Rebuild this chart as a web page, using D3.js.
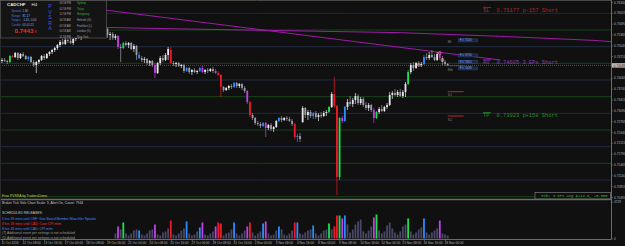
<!DOCTYPE html>
<html lang="en">
<head>
<meta charset="utf-8">
<script src="https://cdn.jsdelivr.net/npm/d3@7"></script>
<style>
  body { margin: 0; background: #101010; }
  svg { display: block; }
  text { font-family: "Liberation Sans", Arial, sans-serif; }
  .mono { font-family: "Liberation Mono", "DejaVu Sans Mono", monospace; }
</style>
</head>
<body>
<svg id="chart" width="625" height="246"></svg>
<script>
// CADCHF H4, 11 Oct 2016 00:00 -> 18 Nov 2016 04:00, one row per bar: [open, high, low, close]
const bars = [
  [.7457,.7466,.7451,.7460],[.7460,.7466,.7454,.7457],[.7457,.7460,.7448,.7454],[.7454,.7475,.7451,.7472],
  [.7472,.7475,.7466,.7469],[.7469,.7484,.7466,.7481],[.7481,.7484,.7460,.7466],[.7466,.7481,.7463,.7478],
  [.7478,.7484,.7469,.7472],[.7472,.7475,.7460,.7463],[.7463,.7472,.7457,.7469],[.7469,.7472,.7451,.7454],
  [.7454,.7460,.7439,.7445],[.7445,.7457,.7421,.7454],[.7454,.7463,.7448,.7460],[.7460,.7475,.7457,.7472],
  [.7472,.7478,.7460,.7466],[.7466,.7481,.7463,.7478],[.7478,.7487,.7472,.7484],[.7484,.7493,.7478,.7490],
  [.7490,.7499,.7484,.7496],[.7496,.7508,.7490,.7505],[.7505,.7520,.7499,.7514],[.7514,.7523,.7505,.7508],
  [.7508,.7526,.7505,.7520],[.7520,.7529,.7511,.7517],[.7517,.7532,.7508,.7511],[.7511,.7526,.7505,.7523],
  [.7523,.7538,.7517,.7532],[.7532,.7541,.7523,.7526],[.7526,.7544,.7520,.7538],[.7538,.7550,.7532,.7544],
  [.7544,.7553,.7535,.7541],[.7541,.7556,.7538,.7550],[.7550,.7559,.7541,.7547],[.7547,.7556,.7538,.7544],
  [.7544,.7553,.7526,.7532],[.7532,.7550,.7529,.7547],[.7547,.7556,.7541,.7550],[.7550,.7559,.7544,.7553],
  [.7553,.7556,.7526,.7535],[.7535,.7544,.7520,.7538],[.7538,.7544,.7520,.7526],[.7526,.7538,.7520,.7532],
  [.7532,.7535,.7493,.7499],[.7499,.7508,.7454,.7496],[.7496,.7514,.7493,.7511],[.7511,.7517,.7502,.7505],
  [.7505,.7514,.7496,.7511],[.7511,.7514,.7490,.7493],[.7493,.7508,.7484,.7502],[.7502,.7505,.7460,.7475],
  [.7475,.7484,.7463,.7466],[.7466,.7472,.7454,.7460],[.7460,.7469,.7451,.7463],[.7463,.7466,.7445,.7451],
  [.7451,.7460,.7442,.7457],[.7457,.7460,.7439,.7445],[.7445,.7451,.7406,.7421],[.7421,.7454,.7418,.7451],
  [.7451,.7472,.7445,.7466],[.7466,.7475,.7454,.7460],[.7460,.7481,.7457,.7475],[.7475,.7499,.7460,.7493],
  [.7490,.7499,.7448,.7451],[.7451,.7457,.7442,.7448],[.7448,.7454,.7439,.7451],[.7451,.7454,.7439,.7442],
  [.7442,.7448,.7436,.7445],[.7445,.7448,.7421,.7427],[.7427,.7439,.7424,.7436],[.7436,.7439,.7418,.7424],
  [.7424,.7433,.7415,.7430],[.7430,.7436,.7421,.7424],[.7424,.7430,.7418,.7427],[.7427,.7439,.7424,.7436],
  [.7436,.7442,.7421,.7424],[.7424,.7433,.7418,.7430],[.7430,.7436,.7421,.7427],[.7427,.7436,.7424,.7433],
  [.7433,.7439,.7421,.7427],[.7427,.7433,.7418,.7421],[.7421,.7427,.7412,.7415],[.7415,.7418,.7349,.7379],
  [.7379,.7382,.7364,.7370],[.7370,.7379,.7367,.7376],[.7376,.7385,.7370,.7382],[.7382,.7388,.7373,.7379],
  [.7379,.7394,.7376,.7391],[.7391,.7394,.7376,.7382],[.7382,.7391,.7376,.7388],[.7388,.7391,.7370,.7376],
  [.7376,.7382,.7361,.7367],[.7367,.7370,.7328,.7334],[.7334,.7337,.7289,.7295],[.7295,.7301,.7280,.7286],
  [.7286,.7289,.7265,.7271],[.7271,.7277,.7262,.7268],[.7268,.7274,.7256,.7262],[.7262,.7274,.7259,.7271],
  [.7271,.7274,.7229,.7256],[.7256,.7268,.7250,.7265],[.7265,.7271,.7247,.7253],[.7253,.7262,.7244,.7259],
  [.7259,.7280,.7256,.7277],[.7277,.7289,.7274,.7286],[.7286,.7292,.7274,.7280],[.7280,.7289,.7277,.7286],
  [.7286,.7292,.7277,.7283],[.7283,.7289,.7274,.7277],[.7277,.7283,.7262,.7268],[.7268,.7271,.7223,.7229],
  [.7229,.7238,.7214,.7232],[.7232,.7241,.7214,.7223],[.7274,.7322,.7271,.7316],[.7316,.7319,.7286,.7295],
  [.7295,.7310,.7280,.7304],[.7304,.7310,.7286,.7292],[.7292,.7304,.7283,.7301],[.7301,.7307,.7283,.7289],
  [.7289,.7301,.7277,.7295],[.7295,.7304,.7286,.7292],[.7292,.7307,.7289,.7301],[.7301,.7310,.7292,.7304],
  [.7304,.7322,.7301,.7319],[.7319,.7364,.7316,.7358],[.7358,.7409,.7316,.7322],[.7322,.7325,.7055,.7109],
  [.7109,.7289,.7100,.7286],[.7286,.7292,.7271,.7277],[.7277,.7322,.7274,.7319],[.7319,.7343,.7310,.7334],
  [.7334,.7352,.7322,.7328],[.7328,.7346,.7319,.7340],[.7340,.7361,.7328,.7352],[.7352,.7358,.7325,.7331],
  [.7331,.7349,.7325,.7343],[.7343,.7349,.7319,.7325],[.7325,.7334,.7310,.7316],[.7316,.7331,.7307,.7325],
  [.7325,.7328,.7304,.7310],[.7310,.7316,.7271,.7286],[.7286,.7307,.7283,.7304],[.7304,.7319,.7298,.7313],
  [.7313,.7325,.7304,.7307],[.7307,.7322,.7304,.7319],[.7319,.7331,.7313,.7325],[.7325,.7364,.7322,.7355],
  [.7355,.7367,.7343,.7361],[.7361,.7373,.7352,.7355],[.7355,.7370,.7349,.7364],[.7364,.7373,.7349,.7352],
  [.7352,.7370,.7346,.7364],[.7364,.7394,.7349,.7388],[.7388,.7430,.7385,.7424],[.7424,.7451,.7418,.7445],
  [.7445,.7454,.7427,.7436],[.7436,.7454,.7433,.7451],[.7451,.7457,.7439,.7445],[.7445,.7454,.7439,.7448],
  [.7448,.7475,.7445,.7469],[.7469,.7481,.7460,.7466],[.7466,.7484,.7460,.7475],[.7475,.7490,.7466,.7469],
  [.7469,.7478,.7457,.7460],[.7460,.7484,.7457,.7478],[.7478,.7487,.7460,.7466],[.7466,.7472,.7445,.7454],
  [.7454,.7460,.7442,.7448],[.7448,.7451,.7442,.74438]
];

// PVSRA coloured bars (index -> g climax bull, r climax bear, b rising bull, m rising bear)
const pvsra = {3:'g',4:'r',10:'b',44:'m',46:'g',52:'b',58:'m',64:'r',70:'b',75:'b',76:'m',81:'m',82:'r',83:'r',
  88:'b',93:'m',94:'r',99:'b',100:'m',105:'b',111:'r',112:'b',118:'b',124:'g',126:'r',127:'r',128:'g',
  129:'m',130:'b',141:'m',142:'g',154:'g',160:'b',166:'m'};

// broker tick volumes, first value belongs to bar 43
const volumeFrom = 43;
const volumes = [
  640,1540,1150,2050,640,380,640,1020,1150,1020,510,380,640,1020,1150,1790,510,380,770,900,
  1280,2300,510,380,640,1020,1280,2180,640,380,510,900,1410,2050,510,380,640,900,1540,2050,
  1920,380,640,770,1150,2050,640,380,640,1020,1540,2050,770,380,640,900,1920,2180,640,380,
  510,1020,1540,1150,510,380,640,1020,2050,2050,640,510,770,1020,1150,1660,640,380,640,1020,
  1150,1920,1150,1540,2940,2940,2560,2940,1790,770,1150,1790,2180,2430,900,640,1020,1540,2690,3070,
  1020,640,900,1660,2050,1280,770,510,900,1540,1790,2560,900,510,770,1150,1410,2560,770,510,
  770,1020,1280,2300,640,510,380
];

const timeLabels = ["11 Oct 2016","12 Oct 08:00","13 Oct 16:00","17 Oct 00:00","18 Oct 08:00","19 Oct 16:00",
  "21 Oct 00:00","24 Oct 08:00","25 Oct 16:00","27 Oct 00:00","28 Oct 08:00","31 Oct 16:00","2 Nov 00:00",
  "3 Nov 08:00","4 Nov 16:00","8 Nov 00:00","9 Nov 08:00","10 Nov 16:00","14 Nov 00:00","15 Nov 08:00",
  "16 Nov 16:00","18 Nov 00:00"];
const priceTicks = [0.76340,0.76015,0.75690,0.75365,0.75040,0.74715,0.74065,0.73740,0.73415,0.73090,
  0.72765,0.72440,0.72115,0.71790,0.71465,0.71140,0.70815,0.70490];
const roundLevels = [0.7600,0.7550,0.7500,0.7450,0.7400,0.7350,0.7300,0.7250,0.7200,0.7150,0.7100,0.7050];

const bid = 0.74438;
const trade = { sl: 0.76177, av: 0.74605, tp: 0.73023 };
const entries = [[158, 0.7445], [166, 0.7481], [167, 0.7460]];
// magenta lines as [bar, price]
const trendLine = [[0, 0.7649], [189, 0.7460]];
const slowLine = [[20, 0.7561], [56, 0.7555], [107, 0.7548], [151, 0.7542], [189, 0.7531], [224, 0.7519], [231, 0.7515]];

const sessions = [["03:58 PM","Sydney"],["01:58 PM","Tokyo"],["12:58 PM","Hongkong"],["06:58 AM","Helsinki (G)"],
  ["05:58 AM","Frankfurt (L)"],["04:58 AM","London (G)"],["11:58 PM","New York"]];
const stats = [["Spread:","1.80"],["Range:","81.17"],["Swaps:","-1.45, 0.04"],["Candle:","01:01:21"]];
const releases = [
  ["5 hrs 33 mins until CHF: Gov Board Member Maechler Speaks", "#4a86ff"],
  ["8 hrs 33 mins until CAD: Core CPI m/m", "#ff2a2a"],
  ["8 hrs 33 mins until CAD: CPI m/m", "#4a86ff"],
  ["(7) Additional event per settings is not scheduled", "#9a9a9a"],
  ["(5) Additional event per settings is not scheduled", "#9a9a9a"]
];

const colors = { g: "#1ee04a", r: "#ee1a2a", b: "#2a8cff", m: "#c23ee6", up: "#e6e6ec", down: "#9c9ca6" };

const svg = d3.select("#chart");
const plotRight = 611;
const x = d3.scaleLinear().domain([0, 169]).range([2, 447.7]);
const y = d3.scaleLinear().domain([0.7640, 0.7055]).range([0, 195]);
const vy = d3.scaleLinear().domain([0, 4729]).range([238.5, 201.5]);
const bodyW = 1.8;

svg.append("rect").attr("width", 625).attr("height", 246).attr("fill", "#101010");

const defs = svg.append("defs");
defs.append("clipPath").attr("id", "mainClip").append("rect").attr("x", 0).attr("y", 1).attr("width", plotRight).attr("height", 197);
defs.append("clipPath").attr("id", "volClip").append("rect").attr("x", 0).attr("y", 200.5).attr("width", plotRight).attr("height", 38.5);

const main = svg.append("g").attr("clip-path", "url(#mainClip)");

// round number levels
main.selectAll("line.level").data(roundLevels).enter().append("line")
  .attr("x1", 0).attr("x2", plotRight)
  .attr("y1", d => y(d)).attr("y2", d => y(d))
  .attr("stroke", d => Math.round(d * 10000) % 100 === 0 ? "#26304e" : "#15501a")
  .attr("stroke-width", 0.8);

// bid line
main.append("line").attr("x1", 0).attr("x2", plotRight).attr("y1", y(bid)).attr("y2", y(bid))
  .attr("stroke", "#7a7a7a").attr("stroke-width", 0.6).attr("stroke-dasharray", "1,1");

const line = d3.line().x(d => x(d[0])).y(d => y(d[1]));
main.append("path").attr("d", line(trendLine)).attr("fill", "none").attr("stroke", "#a01aa8").attr("stroke-width", 1);
main.append("path").attr("d", line(slowLine)).attr("fill", "none").attr("stroke", "#a01aa8").attr("stroke-width", 1);

function barColor(d, i) {
  if (pvsra[i]) return colors[pvsra[i]];
  return d[3] >= d[0] ? colors.up : colors.down;
}

const candle = main.append("g").selectAll("g").data(bars).enter().append("g");
candle.append("line")
  .attr("x1", (d, i) => x(i)).attr("x2", (d, i) => x(i))
  .attr("y1", d => y(d[1])).attr("y2", d => y(d[2]))
  .attr("stroke", barColor).attr("stroke-width", 0.7);
candle.append("rect")
  .attr("x", (d, i) => x(i) - bodyW / 2).attr("width", bodyW)
  .attr("y", d => y(Math.max(d[0], d[3])))
  .attr("height", d => Math.max(Math.abs(y(d[0]) - y(d[3])), 0.7))
  .attr("fill", barColor);

// entry markers
main.selectAll("circle.ep").data(entries).enter().append("circle")
  .attr("cx", d => x(d[0])).attr("cy", d => y(d[1])).attr("r", 1.4)
  .attr("fill", "none").attr("stroke", "#f07a7a").attr("stroke-width", 0.7);

// trade manager small lines near the last bar
const tmX = x(169);
main.append("line").attr("x1", tmX).attr("x2", tmX + 16).attr("y1", y(0.7365)).attr("y2", y(0.7365)).attr("stroke", "#b02a2a").attr("stroke-width", 1);
main.append("line").attr("x1", tmX).attr("x2", tmX + 16).attr("y1", y(0.7292)).attr("y2", y(0.7292)).attr("stroke", "#b02a2a").attr("stroke-width", 1);
main.append("line").attr("x1", tmX).attr("x2", tmX + 16).attr("y1", y(bid) + 0.3).attr("y2", y(bid) + 0.3).attr("stroke", "#3a5aa8").attr("stroke-width", 0.8);
[[0.7519, "R 0.75200"], [0.7474, "R 0.74730"], [0.7455, "R 0.74605"], [0.7435, "R 0.74438"]].forEach(t => {
  const g = main.append("g").attr("transform", `translate(${tmX + 11},${y(t[0])})`);
  g.append("rect").attr("x", 0).attr("y", -1.4).attr("width", 19).attr("height", 3).attr("fill", "#1a2440").attr("stroke", "#3c5aa0").attr("stroke-width", 0.4);
  g.append("text").attr("x", 1).attr("y", 1).attr("font-size", 2.6).attr("fill", "#8aa8e8").text(t[1]);
});
[[0.7519, "BE"], [0.7434, "BSb"], [0.7358, "SL1"], [0.7285, "SL2"]].forEach(t => {
  main.append("text").attr("x", tmX).attr("y", y(t[0]) + 2.2).attr("font-size", 2.6).attr("fill", "#8a8a8a").text(t[1]);
});

// trade level labels
[["SL", trade.sl, "0.76177 p-157 Short", "#b42424"], ["AV", trade.av, "0.74605 3 EPs Short", "#8e3cb4"],
 ["TP", trade.tp, "0.73023 p+158 Short", "#2a8c2a"]].forEach(t => {
  const ly = y(t[1]);
  main.append("line").attr("x1", 483).attr("x2", 491).attr("y1", ly).attr("y2", ly).attr("stroke", t[3]).attr("stroke-width", 0.8);
  main.append("text").attr("class", "mono").attr("x", 483).attr("y", ly + 4.6).attr("font-size", 5.4).attr("fill", t[3]).text(t[0]);
  main.append("text").attr("class", "mono").attr("x", 496.5).attr("y", ly + 4.6).attr("font-size", 5.4).attr("fill", t[3]).text(t[2]);
});

main.append("text").attr("x", 2).attr("y", 196.5).attr("font-size", 3.4).attr("fill", "#c8c83c").text("Free PVSRA by TradersDome");

// summary box bottom right
svg.append("rect").attr("x", 535).attr("y", 192.5).attr("width", 75.5).attr("height", 6.5).attr("fill", "#101010").attr("stroke", "#8a8a8a").attr("stroke-width", 0.6);
svg.append("text").attr("class", "mono").attr("x", 541.5).attr("y", 197.4).attr("font-size", 3.8).attr("fill", "#22c022").text("ESb: 3 EPs avg p+14.6, +0.55R");

// volume sub-window
const vol = svg.append("g").attr("clip-path", "url(#volClip)");
vol.selectAll("rect").data(volumes).enter().append("rect")
  .attr("x", (d, i) => x(i + volumeFrom) - bodyW / 2).attr("width", bodyW)
  .attr("y", d => vy(d)).attr("height", d => vy(0) - vy(d))
  .attr("fill", (d, i) => pvsra[i + volumeFrom] ? colors[pvsra[i + volumeFrom]] : "#484866");

svg.append("text").attr("x", 2).attr("y", 204.3).attr("font-size", 3.4).attr("fill", "#c8c8c8")
  .text("Broker Tick Vols    Chart Scale: 3,  Alert On,  Count: 7944");
svg.append("text").attr("x", 2).attr("y", 214.3).attr("font-size", 3.4).attr("fill", "#c8c8c8").text("SCHEDULED RELEASES:");
svg.selectAll("text.rel").data(releases).enter().append("text")
  .attr("x", 2).attr("y", (d, i) => 220.3 + i * 4.7).attr("font-size", 3.4).attr("fill", d => d[1]).text(d => d[0]);

// frame
svg.append("line").attr("x1", 0).attr("x2", plotRight).attr("y1", 0.5).attr("y2", 0.5).attr("stroke", "#4a4a4a");
svg.append("line").attr("x1", 0).attr("x2", plotRight).attr("y1", 199.5).attr("y2", 199.5).attr("stroke", "#6a6a6a").attr("stroke-width", 1.4);
svg.append("line").attr("x1", 0).attr("x2", plotRight).attr("y1", 239.5).attr("y2", 239.5).attr("stroke", "#6a6a6a");
svg.append("line").attr("x1", plotRight + 0.5).attr("x2", plotRight + 0.5).attr("y1", 0).attr("y2", 239.5).attr("stroke", "#6a6a6a");
svg.append("line").attr("x1", 0.5).attr("x2", 0.5).attr("y1", 0).attr("y2", 239.5).attr("stroke", "#2a2a2a");

// axes
const priceAxis = svg.append("g").attr("transform", `translate(${plotRight + 0.5},0)`)
  .call(d3.axisRight(y).tickValues(priceTicks).tickFormat(d3.format(".5f")).tickSize(1.5).tickPadding(1));
const volAxis = svg.append("g").attr("transform", `translate(${plotRight + 0.5},0)`)
  .call(d3.axisRight(vy).tickValues([0, 4729]).tickFormat(d3.format("d")).tickSize(1.5).tickPadding(1));
const timeAxis = svg.append("g").attr("transform", "translate(0,239.5)")
  .call(d3.axisBottom(x).tickValues(d3.range(0, 170, 8)).tickFormat((d, i) => timeLabels[i]).tickSize(1.5).tickPadding(0.8));
[priceAxis, volAxis, timeAxis].forEach(a => {
  a.select(".domain").remove();
  a.selectAll("line").attr("stroke", "#8a8a8a").attr("stroke-width", 0.5);
  a.selectAll("text").attr("fill", "#b4b4b4").attr("font-size", 3.2).attr("font-family", "Liberation Sans, Arial, sans-serif");
});
timeAxis.selectAll("text").attr("text-anchor", "start").attr("dx", -1);

// current price tag
const tag = svg.append("g").attr("transform", `translate(${plotRight + 1},${y(bid)})`);
tag.append("rect").attr("x", 0).attr("y", -2.2).attr("width", 14).attr("height", 4.4).attr("fill", "#c4c4c4");
tag.append("text").attr("x", 1.5).attr("y", 1.2).attr("font-size", 3.2).attr("fill", "#101010").text(d3.format(".5f")(bid));

// info panel
const info = svg.append("g");
info.append("rect").attr("x", 0.5).attr("y", 0.5).attr("width", 106).attr("height", 37.5).attr("fill", "#141414").attr("stroke", "#5a5a5a").attr("stroke-width", 0.7);
info.append("text").attr("x", 7).attr("y", 5.8).attr("font-size", 4.4).attr("font-weight", "bold").attr("fill", "#e8e8e8").text("CADCHF");
info.append("text").attr("x", 31.5).attr("y", 5.8).attr("font-size", 4.4).attr("fill", "#e8e8e8").text("H4");
stats.forEach((s, i) => {
  info.append("text").attr("x", 11.5).attr("y", 12 + i * 4.6).attr("font-size", 2.9).attr("fill", "#4a7cd0").text(s[0]);
  info.append("text").attr("x", 22.5).attr("y", 12 + i * 4.6).attr("font-size", 2.9).attr("fill", "#9aaee0").text(s[1]);
});
info.append("text").attr("x", 14.5).attr("y", 33).attr("font-size", 6.2).attr("font-weight", "bold").attr("fill", "#f02828").text("0.7443");
info.append("text").attr("x", 34.5).attr("y", 33).attr("font-size", 3.4).attr("fill", "#f02828").text("8");
["P", "V", "S", "R", "A"].forEach((c, i) => {
  info.append("text").attr("x", 50).attr("y", 8 + i * 5.6).attr("font-size", 5.2).attr("fill", "#4656d8").attr("text-anchor", "middle").text(c);
});
sessions.forEach((s, i) => {
  info.append("text").attr("x", 59.5).attr("y", 4.3 + i * 5.55).attr("font-size", 2.7).attr("fill", "#a4a4a4").text(s[0]);
  info.append("text").attr("x", 77).attr("y", 4.3 + i * 5.55).attr("font-size", 2.7).attr("fill", i < 3 ? "#3fae3f" : "#a4a4a4").text(s[1]);
});
</script>
</body>
</html>
